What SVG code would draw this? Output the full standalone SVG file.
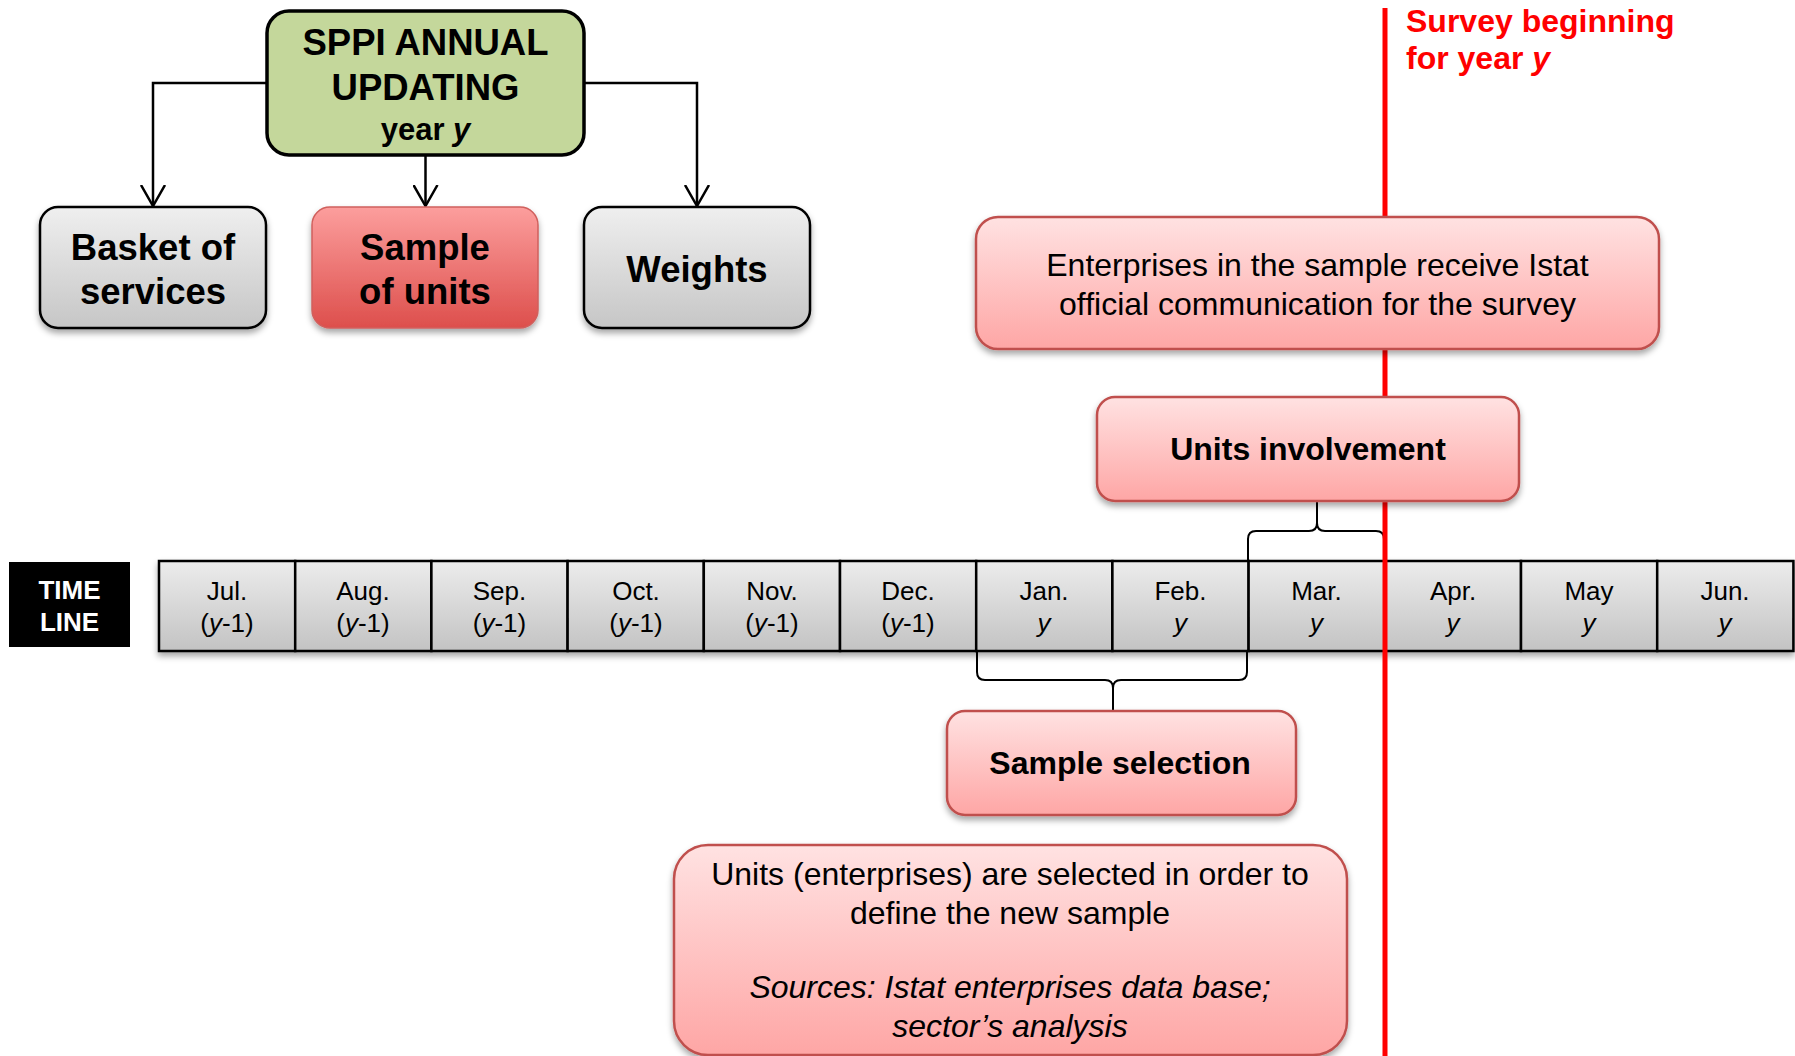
<svg xmlns="http://www.w3.org/2000/svg" width="1795" height="1056" viewBox="0 0 1795 1056">
<defs>
<linearGradient id="gGray" x1="0" y1="0" x2="0" y2="1"><stop offset="0" stop-color="#efefef"/><stop offset="1" stop-color="#c6c6c6"/></linearGradient>
<linearGradient id="gCell" x1="0" y1="0" x2="0" y2="1"><stop offset="0" stop-color="#ececec"/><stop offset="1" stop-color="#c3c3c3"/></linearGradient>
<linearGradient id="gRed" x1="0" y1="0" x2="0" y2="1"><stop offset="0" stop-color="#fc9e9d"/><stop offset="1" stop-color="#dd4f4c"/></linearGradient>
<linearGradient id="gPink" x1="0" y1="0" x2="0" y2="1"><stop offset="0" stop-color="#ffe2e2"/><stop offset="1" stop-color="#fea6a5"/></linearGradient>
<filter id="sh" x="-10%" y="-10%" width="120%" height="130%"><feDropShadow dx="0" dy="4" stdDeviation="3" flood-color="#000" flood-opacity="0.35"/></filter>
<marker id="arr" viewBox="0 0 22 26" refX="21" refY="13" markerWidth="22" markerHeight="26" markerUnits="userSpaceOnUse" orient="auto"><path d="M0,1 L21,13 L0,25" fill="none" stroke="#000" stroke-width="2.5"/></marker>
</defs>
<style>
text{font-family:"Liberation Sans",Arial,sans-serif;text-anchor:middle}
.b{font-weight:bold}
.top{font-size:36.5px;font-weight:bold}
.pink{fill:url(#gPink);stroke:#c0504d;stroke-width:2.5;filter:url(#sh)}
.gray{fill:url(#gGray);stroke:#000;stroke-width:2.5;filter:url(#sh)}
.cell{fill:url(#gCell);stroke:#000;stroke-width:2.5}
.m{font-size:26px}
.t32{font-size:32px}
.con{fill:none;stroke:#000;stroke-width:2.5}
.br{fill:none;stroke:#000;stroke-width:2}
</style>

<g id="timeline">
<g filter="url(#sh)">
<rect class="cell" x="159" y="561" width="136.2" height="90"/>
<rect class="cell" x="295.2" y="561" width="136.2" height="90"/>
<rect class="cell" x="431.4" y="561" width="136.2" height="90"/>
<rect class="cell" x="567.6" y="561" width="136.2" height="90"/>
<rect class="cell" x="703.8" y="561" width="136.2" height="90"/>
<rect class="cell" x="840" y="561" width="136.2" height="90"/>
<rect class="cell" x="976.2" y="561" width="136.2" height="90"/>
<rect class="cell" x="1112.4" y="561" width="136.2" height="90"/>
<rect class="cell" x="1248.6" y="561" width="136.2" height="90"/>
<rect class="cell" x="1384.8" y="561" width="136.2" height="90"/>
<rect class="cell" x="1521" y="561" width="136.2" height="90"/>
<rect class="cell" x="1657.2" y="561" width="136.2" height="90"/>
</g>
<g class="m">
<text x="227" y="600">Jul.</text><text x="227" y="632">(<tspan font-style="italic">y</tspan>-1)</text>
<text x="363" y="600">Aug.</text><text x="363" y="632">(<tspan font-style="italic">y</tspan>-1)</text>
<text x="499.5" y="600">Sep.</text><text x="499.5" y="632">(<tspan font-style="italic">y</tspan>-1)</text>
<text x="636" y="600">Oct.</text><text x="636" y="632">(<tspan font-style="italic">y</tspan>-1)</text>
<text x="772" y="600">Nov.</text><text x="772" y="632">(<tspan font-style="italic">y</tspan>-1)</text>
<text x="908" y="600">Dec.</text><text x="908" y="632">(<tspan font-style="italic">y</tspan>-1)</text>
<text x="1044" y="600">Jan.</text><text x="1044" y="632" font-style="italic">y</text>
<text x="1180.5" y="600">Feb.</text><text x="1180.5" y="632" font-style="italic">y</text>
<text x="1316.5" y="600">Mar.</text><text x="1316.5" y="632" font-style="italic">y</text>
<text x="1453" y="600">Apr.</text><text x="1453" y="632" font-style="italic">y</text>
<text x="1589" y="600">May</text><text x="1589" y="632" font-style="italic">y</text>
<text x="1725" y="600">Jun.</text><text x="1725" y="632" font-style="italic">y</text>
</g>
</g>

<g id="timeline-label">
<rect x="9" y="562" width="121" height="85" fill="#000"/>
<text x="69.5" y="599" class="b" font-size="26" fill="#fff">TIME</text>
<text x="69.5" y="631" class="b" font-size="26" fill="#fff">LINE</text>
</g>

<g id="connectors">
<path class="con" d="M267,83 H153 V206" marker-end="url(#arr)"/>
<path class="con" d="M425.5,155 V206" marker-end="url(#arr)"/>
<path class="con" d="M584,83 H697 V206" marker-end="url(#arr)"/>
<path class="br" d="M1248,561 V539 Q1248,531 1256,531 H1309 Q1317,531 1317,523 V500 M1317,523 Q1317,531 1325,531 H1376 Q1384,531 1384,539 V561"/>
<path class="br" d="M977,651 V672 Q977,680 985,680 H1105 Q1113,680 1113,688 V711 M1113,688 Q1113,680 1121,680 H1239 Q1247,680 1247,672 V651"/>
</g>

<g id="survey-line">
<line x1="1385" y1="8" x2="1385" y2="1056" stroke="#ff0000" stroke-width="5"/>
<text x="1406" y="32" class="b" font-size="32" fill="#ff0000" style="text-anchor:start">Survey beginning</text>
<text x="1406" y="69" class="b" font-size="32" fill="#ff0000" style="text-anchor:start">for year <tspan font-style="italic">y</tspan></text>
</g>

<g id="sppi">
<rect x="267" y="11" width="317" height="144" rx="22" fill="#c4d79b" stroke="#000" stroke-width="3.5"/>
<text x="425.5" y="55" class="top">SPPI ANNUAL</text>
<text x="425.5" y="100" class="top">UPDATING</text>
<text x="425.5" y="140" class="b" font-size="31">year <tspan font-style="italic">y</tspan></text>
</g>

<g id="basket">
<rect class="gray" x="40" y="207" width="226" height="121" rx="18"/>
<text x="153" y="260" class="top">Basket of</text>
<text x="153" y="304" class="top">services</text>
</g>

<g id="sample-units">
<rect x="312" y="207" width="226" height="121" rx="18" fill="url(#gRed)" stroke="#d0605d" stroke-width="1.5" filter="url(#sh)"/>
<text x="425" y="260" class="top">Sample</text>
<text x="425" y="304" class="top">of units</text>
</g>

<g id="weights">
<rect class="gray" x="584" y="207" width="226" height="121" rx="18"/>
<text x="697" y="282" class="top">Weights</text>
</g>

<g id="enterprises">
<rect class="pink" x="976" y="217" width="683" height="132" rx="22"/>
<text x="1317.5" y="276" class="t32">Enterprises in the sample receive Istat</text>
<text x="1317.5" y="315" class="t32">official communication for the survey</text>
</g>

<g id="units-involvement">
<rect class="pink" x="1097" y="397" width="422" height="104" rx="18"/>
<text x="1308" y="460" class="t32 b">Units involvement</text>
</g>

<g id="sample-selection">
<rect class="pink" x="947" y="711" width="349" height="104" rx="18"/>
<text x="1120" y="774" class="t32 b">Sample selection</text>
</g>

<g id="selection-note">
<rect class="pink" x="674" y="845" width="673" height="210" rx="34"/>
<text x="1010" y="885" class="t32">Units (enterprises) are selected in order to</text>
<text x="1010" y="924" class="t32">define the new sample</text>
<text x="1010" y="998" class="t32" font-style="italic">Sources: Istat enterprises data base;</text>
<text x="1010" y="1037" class="t32" font-style="italic">sector’s analysis</text>
</g>
</svg>
